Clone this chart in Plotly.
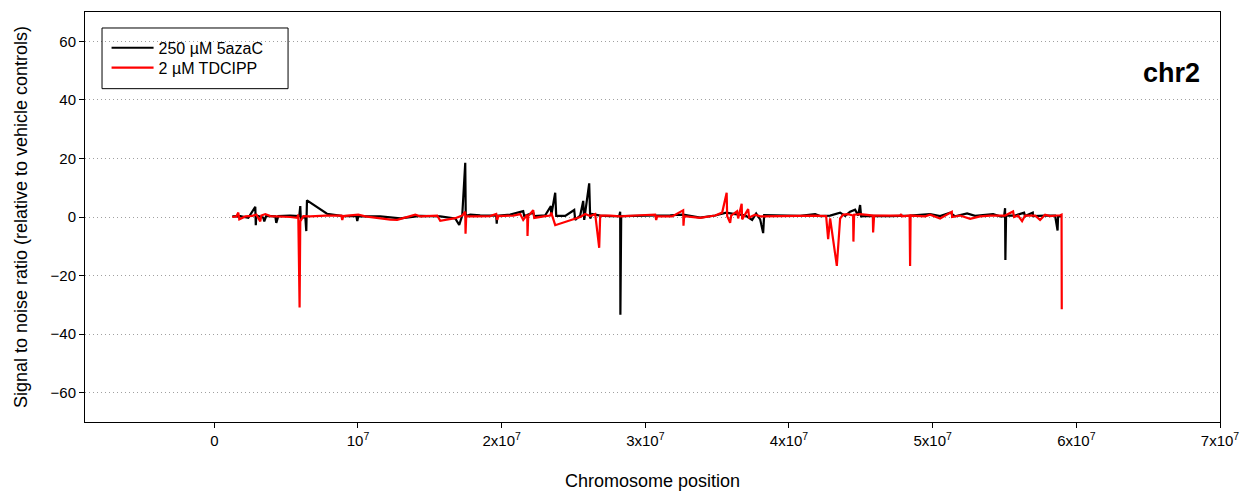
import plotly.graph_objects as go

# Chromosome 2 signal-to-noise profiles (positions in Mb)
aza_pos_mb = [
    1.253, 1.809, 2.366, 2.853, 2.888, 2.923, 3.410, 3.479, 3.618, 4.245,
    4.314, 4.453, 5.288, 5.915, 5.984, 6.019, 6.332, 6.402, 6.450, 7.842,
    8.976, 9.881, 9.951, 10.020, 11.551, 12.943, 14.334, 15.726, 16.770, 17.048,
    17.257, 17.466, 17.501, 17.813, 18.509, 19.623, 19.658, 19.692, 20.597, 21.501,
    21.571, 22.197, 22.267, 23.032, 23.429, 23.450, 23.728, 23.798, 24.424, 25.050,
    25.120, 25.468, 25.677, 25.747, 26.094, 26.164, 26.303, 26.859, 27.555, 28.182,
    28.251, 28.265, 28.321, 29.643, 30.687, 31.730, 32.635, 33.818, 34.862, 35.627,
    36.253, 36.949, 37.436, 37.715, 37.993, 38.202, 38.271, 39.037, 40.776, 41.820,
    42.168, 42.864, 43.560, 43.907, 44.255, 44.603, 44.812, 44.951, 45.021, 45.647,
    47.039, 48.430, 49.474, 49.822, 50.518, 51.214, 51.562, 52.397, 52.953, 54.206,
    54.693, 54.971, 55.041, 55.062, 55.110, 55.737, 56.363, 56.432, 56.968, 56.989,
    57.824, 58.520, 58.694, 58.729, 59.007,
]
aza_snr = [
    0.2, 0.3, -0.3, 3.5, -2.8, 0.5, -0.2, -1.5, 0.4, 0.2,
    -2.0, 0.3, 0.5, 0.3, 3.7, -0.5, 0.2, -4.8, 5.7, 1.1,
    0.3, 0.4, -1.4, 0.2, 0.2, -0.5, 0.4, 0.2, -0.5, -2.7,
    0.5, 18.5, 0.3, 0.8, 0.6, 0.5, -2.3, 0.4, 0.8, 2.0,
    0.3, 1.5, 0.3, 0.6, 3.7, 0.5, 8.3, 0.4, 0.4, 2.4,
    -1.0, 0.5, 5.5, -1.0, 11.5, -0.5, 1.0, 0.5, 0.3, 0.3,
    1.8, -33.4, 0.3, 0.4, 0.3, 0.6, 0.8, -0.2, 0.5, 1.5,
    1.0, 0.6, -1.0, 1.2, -0.8, -5.5, 0.6, 0.5, 0.4, 1.0,
    0.3, 0.5, 1.5, 0.4, 1.8, 2.5, 0.5, 4.1, 0.2, 0.4,
    0.3, 0.5, 0.8, 1.0, 0.3, 1.5, 0.2, 1.2, 0.4, 1.0,
    0.2, 0.3, 3.0, -14.7, 0.5, 0.5, 1.5, 0.3, 1.5, 0.3,
    0.5, 0.5, -4.6, 0.3, 0.2,
]

tdcipp_pos_mb = [
    1.253, 1.531, 1.670, 1.740, 2.157, 2.644, 2.923, 3.062, 3.201, 3.271,
    3.549, 3.897, 4.593, 5.288, 5.775, 5.845, 5.936, 5.984, 6.193, 6.680,
    7.724, 8.837, 8.907, 8.976, 10.020, 10.507, 12.247, 12.734, 13.986, 14.334,
    15.517, 15.726, 16.770, 17.257, 17.466, 17.487, 17.535, 18.161, 19.205, 19.623,
    19.692, 19.762, 20.806, 21.293, 21.501, 21.780, 21.801, 21.849, 22.197, 22.267,
    23.032, 23.380, 23.450, 23.728, 25.468, 25.816, 26.164, 26.512, 26.790, 26.859,
    27.555, 28.251, 29.643, 30.687, 30.757, 30.826, 31.869, 32.635, 32.656, 32.705,
    33.818, 34.862, 35.349, 35.662, 35.697, 35.905, 35.975, 36.392, 36.462, 36.706,
    36.740, 37.158, 37.228, 37.645, 37.993, 38.689, 40.776, 41.820, 42.586, 42.725,
    42.864, 43.330, 43.560, 43.768, 44.116, 44.464, 44.485, 44.534, 44.951, 45.835,
    45.856, 45.925, 47.039, 47.735, 47.804, 47.874, 48.396, 48.430, 48.465, 49.474,
    49.822, 50.518, 51.332, 51.353, 51.910, 52.606, 53.301, 53.997, 55.041, 55.598,
    55.667, 55.946, 56.224, 56.432, 57.129, 57.476, 57.824, 58.172, 58.868, 58.972,
    58.986,
]
tdcipp_snr = [
    0.0, 0.2, 1.5, -0.8, 0.2, 0.4, 0.8, -0.2, -1.5, 0.5,
    1.0, 0.3, 0.2, 0.0, -0.3, 0.8, -30.9, -1.5, 0.3, 0.2,
    0.5, 0.5, -1.0, 0.3, 0.8, 0.2, -0.9, -1.0, 0.8, 0.2,
    0.5, -1.3, -0.4, 0.5, 1.8, -5.7, 0.3, 0.2, 0.3, 1.0,
    -1.0, 0.3, 0.5, 1.0, -1.0, 0.8, -6.5, 0.3, 2.3, -0.3,
    0.3, 0.5, 1.5, -2.8, 0.0, 1.0, 0.3, 1.0, -10.5, 0.5,
    0.5, 0.2, 0.6, 0.8, -1.0, 0.3, 0.2, 2.3, -3.0, 0.3,
    -0.3, 0.5, 1.5, 8.3, 0.3, -2.0, 0.5, 2.0, -0.5, 4.5,
    -0.8, 2.7, -0.2, 0.8, 0.2, 0.3, 0.4, 0.5, 0.3, -7.6,
    -0.5, -16.7, -0.5, 0.8, 1.0, 0.5, -8.4, 0.8, 1.0, 0.5,
    -5.3, 0.5, 0.5, 0.5, 1.0, 0.2, 0.5, -16.7, 0.5, 0.2,
    0.8, -0.5, 1.8, 0.0, 0.5, -0.6, 0.2, 0.5, 0.5, 1.9,
    0.0, 0.5, -1.4, 0.5, 0.5, -1.0, 0.8, 0.3, 0.6, 0.8,
    -31.5,
]

x_tick_vals = [0, 1e7, 2e7, 3e7, 4e7, 5e7, 6e7, 7e7]
x_tick_text = ["0", "10<sup>7</sup>", "2x10<sup>7</sup>", "3x10<sup>7</sup>",
               "4x10<sup>7</sup>", "5x10<sup>7</sup>", "6x10<sup>7</sup>", "7x10<sup>7</sup>"]
y_tick_vals = [-60, -40, -20, 0, 20, 40, 60]

FONT = "Liberation Sans, Arial, sans-serif"

fig = go.Figure()
fig.add_trace(go.Scatter(
    x=[p * 1e6 for p in aza_pos_mb], y=aza_snr, mode="lines",
    name="250 µM 5azaC", line=dict(color="#000000", width=2.2),
    legend="legend",
))
fig.add_trace(go.Scatter(
    x=[p * 1e6 for p in tdcipp_pos_mb], y=tdcipp_snr, mode="lines",
    name="2 µM TDCIPP", line=dict(color="#ff0000", width=2.2),
    legend="legend2",
))

# Legend frame enclosing both legend entries
fig.add_shape(type="rect", xref="paper", yref="paper",
              x0=0.0150, x1=0.1789, y0=0.813, y1=0.961,
              line=dict(color="#000000", width=1), fillcolor="rgba(0,0,0,0)")

fig.add_annotation(text="<b>chr2</b>", xref="paper", yref="paper",
                   x=0.984, y=0.851, xanchor="right", yanchor="middle",
                   showarrow=False, font=dict(family=FONT, size=27, color="#000000"))

legend_style = dict(xanchor="left", yanchor="middle", bgcolor="rgba(0,0,0,0)",
                    borderwidth=0, itemwidth=42,
                    font=dict(family=FONT, size=16, color="#000000"))

fig.update_layout(
    width=1252, height=499,
    margin=dict(l=85, r=32, t=11, b=76),
    paper_bgcolor="white", plot_bgcolor="white",
    font=dict(family=FONT, color="#000000"),
    showlegend=True,
    legend=dict(x=0.019, y=(423 - 47) / 412, **legend_style),
    legend2=dict(x=0.019, y=(423 - 67) / 412, **legend_style),
    xaxis=dict(
        range=[-9e6, 7e7], tickmode="array", tickvals=x_tick_vals, ticktext=x_tick_text,
        showgrid=False, zeroline=False, showline=True, mirror=True,
        linecolor="#000000", linewidth=1, ticks="outside", ticklen=5, tickcolor="#000000",
        tickfont=dict(family=FONT, size=15, color="#000000"),
        title=dict(text="Chromosome position", font=dict(family=FONT, size=18), standoff=26),
    ),
    yaxis=dict(
        range=[-70, 70], tickmode="array", tickvals=y_tick_vals,
        showgrid=True, gridcolor="#a0a0a0", griddash="1px,3px", gridwidth=1,
        zeroline=False, showline=True, mirror=True,
        linecolor="#000000", linewidth=1, ticks="outside", ticklen=5, tickcolor="#000000",
        tickfont=dict(family=FONT, size=15, color="#000000"),
        title=dict(text="Signal to noise ratio (relative to vehicle controls)",
                   font=dict(family=FONT, size=18), standoff=18),
    ),
)

fig.write_html("out.html")
